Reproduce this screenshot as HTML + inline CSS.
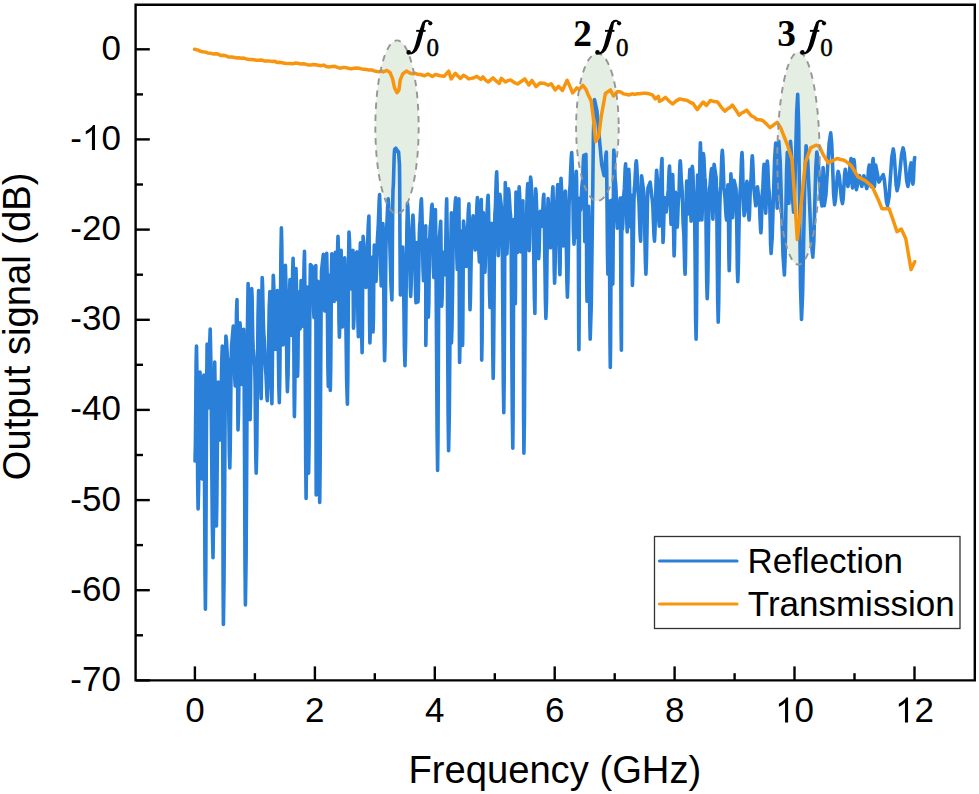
<!DOCTYPE html><html><head><meta charset="utf-8"><style>html,body{margin:0;padding:0;background:#fff;overflow:hidden}svg{display:block}</style></head><body>
<svg width="979" height="794" viewBox="0 0 979 794">
<rect width="979" height="794" fill="#fff"/>
<ellipse cx="397.0" cy="127.15" rx="21.65" ry="86.75" fill="#e4eee2"/>
<ellipse cx="597.4" cy="127.15" rx="21.3" ry="73.9" fill="#e4eee2"/>
<ellipse cx="798.5" cy="158.35" rx="21.2" ry="106.35" fill="#e4eee2"/>
<path d="M195.0,461.0 195.4,444.2 195.8,403.5 196.1,362.8 196.5,346.0 196.9,369.9 197.3,427.5 197.7,485.1 198.1,509.0 198.6,488.9 199.1,440.5 199.5,392.1 200.0,372.0 200.5,387.7 201.1,425.5 201.6,463.3 202.1,479.0 202.5,463.8 202.9,427.0 203.3,390.3 203.8,375.0 204.2,409.4 204.6,492.2 205.0,575.0 205.4,609.3 205.8,570.4 206.2,476.6 206.7,382.9 207.1,344.0 207.4,353.4 207.8,376.0 208.2,398.6 208.5,408.0 208.9,396.4 209.3,368.5 209.8,340.6 210.2,329.0 210.9,362.5 211.6,443.3 212.3,524.1 213.0,557.6 213.4,529.0 213.8,459.8 214.3,390.6 214.7,362.0 215.1,386.0 215.6,444.0 216.0,502.0 216.4,526.0 216.8,504.9 217.3,454.0 217.8,403.1 218.2,382.0 218.7,390.5 219.2,411.0 219.7,431.5 220.2,440.0 220.7,426.2 221.2,393.0 221.8,359.8 222.3,346.0 222.6,386.8 222.9,485.2 223.1,583.6 223.4,624.4 224.0,582.2 224.7,480.2 225.3,378.2 225.9,336.0 226.4,339.7 226.9,348.6 227.4,357.5 227.9,361.2 228.3,376.9 228.8,414.6 229.3,452.4 229.8,468.0 230.2,450.0 230.7,406.7 231.1,363.3 231.6,345.3 233.3,326.0 233.8,334.8 234.2,356.0 234.7,377.2 235.2,386.0 235.6,373.4 236.1,342.8 236.5,312.3 237.0,299.6 237.2,318.7 237.5,364.8 237.8,410.9 238.0,430.0 238.5,414.3 239.0,376.4 239.5,338.5 240.0,322.8 240.5,331.8 241.0,353.6 241.5,375.5 242.0,384.5 242.4,376.4 242.8,356.9 243.3,337.3 243.7,329.2 244.1,369.6 244.6,467.1 245.0,564.5 245.4,604.9 246.1,557.8 246.8,444.2 247.4,330.6 248.1,283.5 248.6,303.5 249.1,351.6 249.6,399.8 250.1,419.8 250.5,400.6 250.9,354.2 251.3,307.7 251.7,288.5 252.1,297.2 252.4,318.3 252.8,339.4 253.2,348.2 254.7,366.5 255.1,382.2 255.4,419.9 255.8,457.6 256.2,473.2 256.8,446.5 257.4,381.9 258.0,317.3 258.6,290.6 259.2,306.4 259.9,344.6 260.6,382.8 261.2,398.6 261.4,380.9 261.7,338.1 261.9,295.2 262.2,277.5 262.6,285.9 263.0,306.3 263.5,326.6 263.9,335.1 264.3,340.2 264.8,352.7 265.2,365.2 265.6,370.3 266.0,374.8 266.5,385.5 266.9,396.2 267.3,400.6 267.9,384.6 268.6,346.1 269.2,307.6 269.9,291.6 270.4,308.0 270.9,347.6 271.4,387.3 271.9,403.7 272.2,384.9 272.6,339.6 272.9,294.2 273.3,275.4 273.8,286.2 274.3,312.3 274.8,338.4 275.3,349.2 275.8,340.6 276.3,319.9 276.8,299.2 277.3,290.6 277.8,307.0 278.3,346.6 278.8,386.3 279.3,402.7 279.8,377.1 280.4,315.2 280.9,253.3 281.4,227.7 281.8,244.9 282.2,286.3 282.6,327.8 283.0,345.0 283.6,333.3 284.2,305.2 284.8,277.1 285.4,265.4 285.9,283.9 286.4,328.5 286.9,373.1 287.4,391.6 288.0,375.2 288.7,335.6 289.4,295.9 290.0,279.5 290.4,287.7 290.8,307.5 291.2,327.3 291.6,335.5 291.9,324.2 292.3,296.9 292.7,269.6 293.1,258.3 293.4,281.5 293.8,337.4 294.1,393.4 294.4,416.6 294.8,394.9 295.2,342.6 295.6,290.2 296.0,268.5 296.4,284.3 296.8,322.4 297.2,360.5 297.6,376.3 297.9,363.9 298.2,334.1 298.5,304.2 298.9,291.8 299.2,297.3 299.5,310.4 299.8,323.6 300.1,329.0 300.4,321.9 300.6,304.8 300.9,287.7 301.1,280.6 301.5,287.3 302.0,303.4 302.4,319.5 302.8,326.2 303.2,315.2 303.6,288.8 304.1,262.4 304.5,251.4 304.9,287.6 305.3,374.9 305.7,462.3 306.1,498.5 306.4,467.5 306.7,392.8 307.0,318.1 307.4,287.1 307.7,314.4 308.0,380.2 308.3,446.0 308.6,473.3 309.1,442.7 309.5,369.0 309.9,295.2 310.4,264.6 312.2,266.5 312.6,273.9 313.1,291.9 313.6,309.9 314.0,317.4 314.4,309.8 314.9,291.4 315.4,273.1 315.8,265.5 315.9,299.1 316.0,380.2 316.1,461.4 316.2,495.0 316.6,463.7 317.1,388.2 317.5,312.7 317.9,281.4 318.4,313.8 318.8,392.0 319.3,470.1 319.7,502.5 320.1,468.6 320.6,386.8 321.1,305.0 321.5,271.2 323.3,254.4 323.6,262.7 324.0,282.6 324.4,302.6 324.7,310.9 325.2,302.5 325.7,282.1 326.2,261.8 326.7,253.4 327.1,272.9 327.5,319.9 327.9,366.9 328.3,386.4 328.6,370.1 328.8,330.9 329.1,291.6 329.3,275.3 329.6,292.2 329.8,332.9 330.1,373.6 330.3,390.4 330.7,370.4 331.1,322.1 331.4,273.9 331.8,253.9 333.3,258.5 333.6,264.8 333.8,279.9 334.1,295.1 334.3,301.4 334.6,294.2 334.8,276.9 335.1,259.6 335.3,252.4 335.6,259.3 336.0,276.0 336.3,292.6 336.6,299.5 337.0,290.3 337.3,267.9 337.7,245.6 338.0,236.3 338.4,251.1 338.7,286.7 339.0,322.3 339.4,337.1 339.8,324.4 340.2,293.7 340.7,263.0 341.1,250.3 341.4,261.5 341.8,288.6 342.1,315.8 342.4,327.0 343.0,316.9 343.5,292.4 344.1,267.9 344.7,257.8 345.4,279.2 346.0,331.0 346.7,382.8 347.4,404.2 347.8,379.0 348.2,318.1 348.6,257.3 349.0,232.1 349.5,240.4 350.0,260.5 350.5,280.6 350.9,288.9 351.4,283.3 351.9,269.6 352.4,256.0 352.9,250.3 353.0,261.7 353.2,289.2 353.4,316.8 353.5,328.2 354.0,317.3 354.4,290.9 354.9,264.5 355.4,253.6 356.9,251.9 357.3,264.4 357.6,294.4 358.0,324.4 358.4,336.8 358.9,323.0 359.4,289.9 359.9,256.7 360.4,242.9 360.8,259.0 361.2,297.8 361.7,336.6 362.1,352.7 362.4,335.7 362.6,294.6 362.9,253.4 363.1,236.4 363.8,243.9 364.6,261.9 365.3,279.9 366.0,287.4 366.7,277.0 367.4,251.8 368.2,226.5 368.9,216.1 369.1,234.7 369.4,279.5 369.6,324.3 369.9,342.9 370.3,330.4 370.7,300.1 371.1,269.8 371.5,257.3 371.9,268.2 372.3,294.6 372.7,321.0 373.1,331.9 373.4,319.2 373.7,288.4 374.0,257.7 374.3,245.0 374.7,250.3 375.1,263.2 375.6,276.1 376.0,281.4 376.4,274.3 376.9,257.1 377.4,239.9 377.8,232.8 378.2,227.2 378.7,213.7 379.2,200.2 379.6,194.6 380.0,208.0 380.4,240.2 380.8,272.5 381.2,285.9 381.7,276.8 382.1,254.7 382.5,232.7 382.9,223.6 383.3,243.7 383.8,292.2 384.2,340.7 384.6,360.8 385.1,341.7 385.5,295.4 385.9,249.2 386.4,230.1 386.8,225.5 387.3,214.5 387.8,203.5 388.2,198.9 389.1,213.7 390.0,249.4 391.0,285.2 391.9,300.0 392.2,283.9 392.4,245.0 392.7,206.1 393.0,190.0 393.4,184.1 393.8,169.8 394.2,155.4 394.6,149.5 395.8,148.2 397.2,150.5 398.6,152.0 399.5,165.0 399.7,184.0 399.9,230.0 400.2,276.0 400.4,295.0 401.0,288.0 401.5,271.1 402.1,254.1 402.7,247.1 403.3,264.5 403.9,306.4 404.4,348.3 405.0,365.7 405.6,341.9 406.2,284.4 406.9,227.0 407.5,203.2 407.9,207.9 408.3,219.3 408.7,230.7 409.1,235.5 409.5,244.4 409.9,265.9 410.3,287.5 410.7,296.4 411.2,284.5 411.8,255.7 412.3,226.9 412.9,215.0 413.3,219.9 413.7,231.9 414.1,243.8 414.4,248.8 414.8,256.7 415.2,275.8 415.6,294.9 416.0,302.8 416.2,294.0 416.5,272.6 416.8,251.3 417.0,242.5 417.2,251.2 417.5,272.2 417.8,293.3 418.0,302.0 418.4,290.6 418.9,263.2 419.3,235.8 419.7,224.5 420.1,220.7 420.5,211.7 421.0,202.6 421.4,198.9 421.9,210.9 422.5,239.9 423.0,268.8 423.5,280.8 424.1,272.7 424.6,253.3 425.2,233.8 425.7,225.7 425.7,243.2 425.8,285.5 425.8,327.9 425.8,345.4 426.1,329.9 426.4,292.6 426.7,255.2 427.1,239.7 427.4,251.1 427.7,278.5 428.0,305.9 428.3,317.2 428.8,304.0 429.2,272.2 429.7,240.3 430.2,227.1 430.7,223.8 431.2,215.7 431.6,207.6 432.1,204.3 432.5,215.0 432.9,240.8 433.3,266.7 433.8,277.4 434.2,267.4 434.6,243.5 435.0,219.5 435.4,209.6 435.9,247.8 436.5,340.0 437.1,432.2 437.6,470.4 438.0,436.8 438.4,355.6 438.8,274.5 439.1,240.9 440.7,221.4 440.9,233.8 441.2,263.8 441.4,293.7 441.7,306.1 442.1,298.2 442.5,279.1 442.9,260.1 443.4,252.2 443.8,255.5 444.2,263.5 444.6,271.5 445.0,274.8 445.4,263.7 445.9,236.8 446.3,210.0 446.7,198.9 447.2,235.8 447.6,324.9 448.1,413.9 448.6,450.8 449.3,416.0 450.0,331.9 450.7,247.7 451.4,212.9 451.4,231.9 451.4,277.9 451.5,323.9 451.5,342.9 452.0,326.4 452.6,286.7 453.1,246.9 453.6,230.5 454.1,225.7 454.6,214.2 455.2,202.7 455.7,197.9 456.1,208.4 456.5,233.7 456.9,258.9 457.3,269.4 457.7,259.1 458.1,234.2 458.5,209.2 458.9,198.9 459.1,222.9 459.2,280.7 459.4,338.5 459.6,362.5 460.0,343.3 460.4,296.8 460.7,250.3 461.1,231.1 461.5,247.8 461.9,288.2 462.2,328.7 462.6,345.4 462.8,327.2 463.1,283.2 463.3,239.3 463.5,221.1 464.2,227.7 464.9,243.8 465.5,259.8 466.2,266.4 466.9,257.3 467.5,235.2 468.2,213.1 468.9,203.9 469.2,219.4 469.4,256.9 469.7,294.3 470.0,309.8 470.4,300.5 470.8,278.1 471.2,255.7 471.6,246.4 471.9,241.9 472.3,231.1 472.7,220.2 473.1,215.7 473.7,220.7 474.2,232.8 474.8,245.0 475.3,250.0 475.8,242.3 476.4,223.8 476.9,205.2 477.4,197.5 477.9,206.9 478.4,229.7 478.9,252.5 479.4,262.0 479.8,252.8 480.3,230.8 480.8,208.7 481.3,199.6 481.4,223.1 481.5,279.9 481.6,336.6 481.7,360.1 482.1,338.5 482.5,286.3 482.9,234.2 483.3,212.6 483.7,221.3 484.1,242.4 484.5,263.5 484.9,272.3 485.3,264.6 485.7,246.1 486.1,227.7 486.5,220.0 486.9,216.4 487.3,207.7 487.7,199.0 488.1,195.4 488.6,211.8 489.1,251.4 489.5,291.0 490.0,307.4 490.4,295.1 490.8,265.4 491.2,235.7 491.6,223.4 492.0,246.1 492.4,300.9 492.8,355.8 493.2,378.5 493.6,354.3 494.1,296.0 494.5,237.7 494.9,213.6 495.4,207.5 495.8,192.7 496.3,177.9 496.7,171.8 497.1,184.1 497.5,213.7 497.9,243.3 498.3,255.6 498.7,246.6 499.1,224.9 499.5,203.3 499.9,194.3 501.9,211.3 502.3,240.8 502.8,312.1 503.3,383.3 503.8,412.8 504.2,379.1 504.6,297.7 504.9,216.2 505.3,182.5 505.7,193.0 506.1,218.3 506.5,243.5 506.9,254.0 507.3,244.5 507.7,221.5 508.1,198.4 508.5,188.9 509.0,192.8 509.6,202.2 510.1,211.6 510.6,215.5 511.2,249.6 511.7,331.9 512.3,414.2 512.8,448.3 513.1,414.8 513.4,333.8 513.7,252.8 514.0,219.2 514.4,231.6 514.7,261.5 515.0,291.3 515.3,303.7 515.5,287.4 515.6,247.9 515.8,208.4 516.0,192.1 516.4,200.9 516.8,222.3 517.2,243.6 517.6,252.5 518.0,242.9 518.4,219.6 518.8,196.4 519.2,186.8 519.7,196.3 520.1,219.4 520.6,242.4 521.0,252.0 521.5,244.5 522.0,226.3 522.4,208.2 522.9,200.7 523.1,237.7 523.4,326.9 523.6,416.2 523.9,453.2 524.4,420.5 524.9,341.6 525.4,262.8 525.8,230.1 526.3,223.3 526.8,206.8 527.3,190.4 527.8,183.6 528.1,193.4 528.5,217.2 528.9,241.0 529.2,250.8 529.6,240.0 529.9,214.0 530.2,187.9 530.6,177.1 531.1,181.3 531.7,191.5 532.2,201.7 532.8,206.0 533.3,221.7 533.8,259.7 534.4,297.8 534.9,313.5 535.1,295.3 535.3,251.2 535.5,207.1 535.7,188.9 536.1,193.4 536.5,204.3 536.8,215.2 537.2,219.7 537.6,225.4 538.0,239.1 538.3,252.9 538.7,258.6 539.1,251.7 539.5,235.0 539.8,218.3 540.2,211.3 541.7,226.4 542.2,221.7 542.8,210.4 543.3,199.0 543.8,194.3 544.3,212.5 544.8,256.3 545.4,300.2 545.9,318.4 546.5,300.9 547.0,258.5 547.5,216.1 548.1,198.6 548.7,205.8 549.3,223.2 549.9,240.6 550.5,247.8 551.1,238.9 551.7,217.3 552.3,195.7 552.9,186.8 553.3,200.9 553.8,235.0 554.2,269.1 554.6,283.2 555.0,273.0 555.4,248.3 555.8,223.6 556.2,213.3 556.6,209.1 557.0,199.0 557.4,188.8 557.8,184.6 558.3,197.8 558.8,229.6 559.4,261.4 559.9,274.6 560.2,260.5 560.5,226.4 560.7,192.3 561.0,178.2 561.5,188.1 562.1,212.1 562.6,236.1 563.1,246.0 563.7,237.9 564.2,218.5 564.8,199.1 565.3,191.1 565.8,206.6 566.3,244.1 566.9,281.6 567.4,297.1 567.9,281.7 568.5,244.5 569.0,207.3 569.5,192.0 570.1,186.2 570.6,172.2 571.2,158.3 571.7,152.5 572.3,165.9 572.9,198.3 573.4,230.7 574.0,244.1 574.6,233.4 575.1,207.7 575.7,182.0 576.3,171.4 576.6,181.1 576.8,204.6 577.1,228.1 577.4,237.8 577.6,233.6 577.8,223.5 578.0,213.3 578.1,209.1 578.3,229.7 578.5,279.5 578.7,329.2 578.9,349.8 579.1,327.6 579.3,273.9 579.5,220.2 579.8,198.0 580.6,210.0 581.0,206.1 581.4,196.8 581.8,187.5 582.2,183.6 582.6,179.5 583.0,169.5 583.4,159.5 583.8,155.4 584.1,168.0 584.3,198.5 584.6,229.0 584.8,241.6 585.1,228.8 585.4,198.0 585.6,167.1 585.9,154.3 586.2,175.8 586.5,227.8 586.7,279.8 587.0,301.3 587.4,287.4 587.8,253.9 588.2,220.3 588.6,206.4 589.0,225.9 589.4,272.9 589.8,319.8 590.2,339.3 591.3,304.2 592.4,219.5 593.4,134.7 594.5,99.6 596.9,110.7 599.3,137.6 601.7,164.6 604.1,175.7 604.6,172.2 605.2,163.9 605.8,155.6 606.3,152.1 606.7,170.0 607.1,213.2 607.5,256.4 607.9,274.3 608.2,263.6 608.5,237.7 608.8,211.8 609.1,201.1 609.4,225.4 609.7,284.3 610.0,343.1 610.3,367.5 610.6,343.0 610.9,284.0 611.2,224.9 611.5,200.4 611.9,212.7 612.2,242.3 612.5,271.8 612.8,284.1 613.0,264.5 613.3,217.1 613.5,169.6 613.8,150.0 614.2,154.9 614.7,166.7 615.1,178.6 615.6,183.5 616.0,190.0 616.5,205.8 616.9,221.6 617.3,228.1 619.1,218.6 619.4,215.6 619.7,208.4 620.0,201.1 620.2,198.1 620.5,220.4 620.8,274.2 621.1,328.0 621.4,350.3 621.5,328.0 621.6,274.0 621.8,220.1 621.9,197.7 622.0,202.3 622.1,213.5 622.3,224.7 622.4,229.3 622.8,223.9 623.2,210.9 623.6,198.0 624.0,192.6 624.4,188.4 624.8,178.2 625.2,168.1 625.6,163.9 626.0,173.9 626.4,197.9 626.8,222.0 627.2,231.9 627.6,222.8 628.0,200.6 628.4,178.5 628.8,169.3 629.3,177.8 629.8,198.2 630.4,218.6 630.9,227.1 631.1,222.4 631.3,211.1 631.5,199.9 631.6,195.2 631.8,208.4 632.0,240.3 632.2,272.2 632.4,285.4 632.9,271.2 633.4,237.1 633.9,202.9 634.3,188.7 634.8,184.6 635.3,174.7 635.8,164.8 636.3,160.7 636.8,165.9 637.4,178.5 637.9,191.1 638.5,196.3 639.0,202.9 639.5,218.7 640.1,234.5 640.6,241.1 640.9,231.5 641.1,208.4 641.4,185.3 641.6,175.7 643.8,192.2 644.3,204.2 644.8,233.2 645.4,262.3 645.9,274.3 646.4,261.6 647.0,231.0 647.5,200.3 648.0,187.6 650.2,182.1 652.4,201.1 652.9,207.0 653.4,221.2 654.0,235.3 654.5,241.2 655.0,230.8 655.5,205.8 656.1,180.8 656.6,170.4 657.3,178.6 658.0,198.3 658.6,217.9 659.3,226.1 660.0,216.2 660.6,192.4 661.3,168.5 662.0,158.6 662.2,170.9 662.5,200.5 662.8,230.2 663.0,242.5 663.4,235.9 663.8,220.0 664.2,204.1 664.6,197.6 666.2,212.0 667.9,194.0 668.3,189.9 668.7,180.0 669.1,170.2 669.5,166.1 669.9,174.6 670.3,195.2 670.7,215.8 671.1,224.3 671.5,217.1 671.9,199.5 672.3,181.9 672.7,174.6 673.1,186.5 673.4,215.2 673.8,244.0 674.1,255.9 674.5,246.6 674.9,224.0 675.2,201.5 675.6,192.2 676.0,197.3 676.4,209.7 676.8,222.1 677.2,227.2 677.5,222.8 677.9,212.3 678.3,201.7 678.7,197.3 679.1,191.9 679.4,179.0 679.8,166.1 680.2,160.7 680.6,164.4 681.0,173.2 681.4,182.0 681.8,185.7 682.2,192.0 682.7,207.3 683.1,222.6 683.5,228.9 683.9,235.6 684.3,251.6 684.7,267.7 685.1,274.3 685.5,260.7 685.9,227.7 686.3,194.8 686.7,181.1 687.1,185.9 687.5,197.5 687.9,209.1 688.3,213.9 688.7,207.4 689.1,191.6 689.5,175.8 689.9,169.3 690.2,176.9 690.5,195.3 690.8,213.7 691.1,221.3 691.4,213.3 691.7,193.9 692.0,174.4 692.3,166.4 692.8,170.8 693.2,181.6 693.7,192.3 694.2,196.7 694.7,217.6 695.2,268.0 695.6,318.4 696.1,339.3 696.5,315.2 696.9,257.2 697.2,199.1 697.6,175.0 698.0,181.6 698.3,197.6 698.6,213.5 699.0,220.2 699.4,208.8 699.7,181.5 700.0,154.2 700.4,142.9 700.8,154.2 701.1,181.4 701.5,208.6 701.9,219.9 702.3,210.2 702.6,186.7 703.0,163.3 703.4,153.6 703.9,157.6 704.3,167.4 704.8,177.2 705.3,181.3 705.8,198.5 706.2,240.0 706.7,281.6 707.2,298.8 707.8,282.7 708.3,243.9 708.9,205.0 709.4,188.9 710.0,185.9 710.5,178.8 711.1,171.6 711.6,168.6 711.9,176.0 712.2,193.8 712.5,211.7 712.9,219.1 713.2,211.0 713.5,191.7 713.8,172.3 714.1,164.3 716.2,178.3 716.7,199.3 717.2,250.2 717.7,301.0 718.2,322.1 718.7,303.1 719.2,257.1 719.7,211.1 720.2,192.0 720.8,185.9 721.3,171.2 721.8,156.5 722.3,150.4 722.8,156.7 723.4,172.1 723.9,187.4 724.5,193.7 725.0,197.6 725.5,206.9 726.1,216.2 726.6,220.0 726.9,214.8 727.2,202.4 727.6,190.0 727.9,184.8 728.2,197.4 728.6,227.7 728.9,258.0 729.2,270.6 729.6,256.4 730.0,222.3 730.5,188.1 730.9,173.9 731.3,180.3 731.7,195.8 732.1,211.2 732.5,217.6 732.9,212.2 733.3,199.0 733.7,185.9 734.1,180.4 736.0,188.6 736.4,202.2 736.9,235.2 737.3,268.1 737.8,281.7 738.3,268.9 738.8,238.0 739.4,207.1 739.9,194.4 740.4,188.2 741.0,173.4 741.5,158.6 742.0,152.5 742.5,161.8 743.0,184.1 743.6,206.4 744.1,215.7 744.8,210.7 745.5,198.6 746.2,186.4 746.9,181.4 747.5,187.1 748.0,200.7 748.5,214.3 749.1,220.0 749.5,214.5 749.9,201.2 750.3,187.9 750.7,182.4 751.1,178.5 751.5,169.1 751.9,159.6 752.3,155.7 752.7,160.6 753.2,172.5 753.6,184.4 754.0,189.4 755.7,205.8 757.5,186.9 759.2,202.6 759.6,207.1 760.0,217.7 760.5,228.4 760.9,232.8 761.3,226.7 761.7,212.0 762.1,197.2 762.5,191.1 762.9,187.2 763.3,177.7 763.7,168.2 764.1,164.3 764.5,171.5 764.9,188.7 765.3,206.0 765.7,213.2 766.1,205.5 766.5,187.1 766.9,168.7 767.3,161.1 767.8,165.6 768.2,176.6 768.7,187.6 769.2,192.2 769.7,201.1 770.2,222.8 770.6,244.5 771.1,253.5 772.2,237.3 773.4,198.2 774.6,159.2 775.7,143.0 776.1,152.6 776.5,175.6 776.9,198.7 777.2,208.2 777.6,198.5 778.0,174.8 778.4,151.2 778.8,141.4 780.2,161.0 781.6,208.2 783.0,255.4 784.4,275.0 785.1,257.0 785.8,213.7 786.6,170.4 787.3,152.4 787.7,159.8 788.1,177.8 788.5,195.8 788.9,203.3 789.3,194.2 789.7,172.3 790.1,150.5 790.5,141.4 791.3,151.8 792.0,176.8 792.8,201.8 793.6,212.2 794.6,194.9 795.7,153.2 796.7,111.5 797.7,94.2 798.7,127.2 799.6,206.8 800.5,286.5 801.5,319.5 802.6,294.0 803.8,232.6 805.0,171.2 806.1,145.7 807.8,162.0 809.5,201.4 811.1,240.8 812.8,257.1 813.8,241.7 814.8,204.6 815.8,167.5 816.8,152.1 818.1,160.0 819.4,179.0 820.7,198.0 822.0,205.9 822.3,200.3 822.6,186.7 822.9,173.2 823.1,167.6 823.4,173.2 823.7,186.6 824.0,200.1 824.3,205.7 825.9,195.0 827.5,169.3 829.1,143.6 830.7,132.9 831.7,143.4 832.7,168.8 833.6,194.1 834.6,204.6 835.5,199.7 836.4,188.0 837.3,176.3 838.2,171.4 839.3,176.1 840.4,187.5 841.4,198.9 842.5,203.6 843.2,198.6 843.9,186.5 844.6,174.3 845.3,169.3 847.9,186.4 848.7,182.3 849.5,172.5 850.3,162.7 851.1,158.6 851.5,162.9 851.8,173.3 852.1,183.6 852.5,187.9 852.9,183.8 853.2,173.8 853.5,163.8 853.9,159.6 854.5,164.0 855.1,174.6 855.8,185.2 856.4,189.6 859.6,175.7 861.8,186.4 863.9,175.7 866.7,188.6 867.4,185.1 868.0,176.8 868.6,168.5 869.3,165.0 869.8,168.2 870.2,175.9 870.7,183.6 871.2,186.8 871.7,182.6 872.2,172.7 872.6,162.7 873.1,158.6 873.4,162.7 873.8,172.6 874.1,182.5 874.4,186.6 874.7,183.4 875.1,175.8 875.4,168.2 875.7,165.0 878.9,182.1 883.2,174.6 884.3,179.2 885.4,190.1 886.4,201.1 887.5,205.7 889.0,197.4 890.4,177.3 891.8,157.2 893.3,148.9 894.2,155.0 895.2,169.8 896.1,184.6 897.1,190.7 898.6,184.4 900.1,169.3 901.6,154.2 903.1,147.9 904.3,153.5 905.5,167.2 906.7,180.8 907.9,186.4 908.7,183.0 909.5,174.7 910.3,166.3 911.1,162.9 911.6,166.0 912.0,173.5 912.5,181.0 912.9,184.1 913.4,180.2 913.8,170.8 914.2,161.4 914.7,157.5" fill="none" stroke="#2a80d8" stroke-width="3.6" stroke-linejoin="round" stroke-linecap="round"/>
<path d="M194.6,49.2 197.4,49.9 200.2,51.2 202.8,51.8 205.3,52.1 207.8,52.9 210.4,53.3 213.0,53.9 215.5,53.7 218.1,54.1 220.7,55.5 223.2,55.3 225.8,55.7 228.3,57.0 230.9,56.9 233.5,57.2 236.0,57.9 238.6,57.8 241.1,58.3 243.7,58.1 246.2,58.9 248.8,59.5 251.3,59.4 253.9,59.7 256.4,60.2 258.9,60.3 261.5,59.9 264.1,60.9 266.6,61.0 269.1,60.9 271.7,61.4 274.3,61.2 276.9,62.4 279.5,62.3 282.2,62.8 284.8,63.3 287.4,63.4 290.0,63.5 292.6,63.8 295.1,63.1 297.7,63.2 300.2,63.9 302.8,63.8 305.3,64.1 307.9,64.9 310.4,65.1 313.0,64.5 315.5,64.8 318.1,65.2 320.6,65.8 323.7,65.1 326.2,66.5 328.8,66.9 331.9,66.5 334.9,66.3 337.4,67.4 340.0,68.2 342.6,67.6 345.2,67.4 348.2,68.2 351.3,68.9 353.9,68.3 356.4,67.9 358.9,68.2 361.5,68.9 364.1,69.2 366.6,69.5 369.1,70.1 371.7,69.9 374.2,70.9 376.8,71.5 379.4,71.7 381.9,70.9 383.1,72.0 386.9,70.4 390.1,72.6 392.6,78.9 394.5,87.7 397.0,92.8 398.9,90.3 400.2,80.2 402.7,73.9 406.4,71.1 410.2,73.3 412.8,73.7 415.3,73.3 417.8,74.4 420.3,74.5 424.7,75.8 427.9,73.9 432.3,76.4 435.4,74.5 440.0,75.8 444.1,76.3 448.7,71.2 451.2,78.9 455.3,73.3 457.9,76.0 460.4,78.4 463.5,75.3 466.1,76.7 468.6,78.9 471.3,78.4 474.1,77.7 476.8,76.3 480.9,79.4 482.9,76.9 485.4,79.9 488.0,82.0 490.6,80.0 493.1,77.9 496.1,80.9 499.2,83.5 501.3,78.4 505.4,82.0 507.9,80.6 510.5,79.9 514.0,82.3 517.6,84.0 521.2,81.5 524.8,78.9 528.9,85.0 531.9,80.4 536.0,86.6 540.0,83.0 544.1,83.3 548.2,85.3 551.2,83.8 555.3,89.9 558.4,86.3 562.5,90.4 567.1,80.2 569.9,86.4 572.7,93.0 576.8,87.9 579.3,89.4 582.9,85.3 586.0,89.4 588.0,94.5 591.1,100.6 593.1,116.0 595.7,141.5 598.7,136.4 601.3,116.0 605.4,93.5 610.5,89.9 613.5,96.0 617.6,91.5 620.7,92.0 623.7,93.9 626.8,94.5 629.4,94.9 632.1,93.8 634.7,94.4 637.4,93.8 640.0,93.8 643.0,93.2 646.1,93.3 649.2,93.8 652.3,94.8 655.3,98.9 658.4,96.3 659.4,101.4 662.5,99.7 665.5,97.4 669.1,101.1 672.7,104.0 676.2,100.9 679.8,98.9 682.3,99.5 684.9,99.9 687.6,100.6 690.4,102.5 693.1,103.5 697.2,109.6 700.2,105.6 703.3,102.0 706.4,105.5 710.5,100.4 714.0,101.6 717.6,102.0 721.2,107.1 724.8,111.2 727.3,109.1 729.9,107.6 732.4,105.0 735.8,109.9 739.1,115.2 741.6,113.0 744.1,111.9 746.6,110.1 751.3,115.8 754.1,117.2 757.0,119.6 759.9,119.7 762.7,120.5 766.4,123.9 770.0,127.6 777.1,122.3 780.6,127.6 787.6,145.3 792.0,159.4 794.7,198.2 797.3,239.6 800.0,215.8 805.3,162.9 810.6,147.9 815.9,145.3 819.4,146.2 822.9,154.1 828.2,162.9 837.1,158.5 840.6,159.5 844.1,160.3 847.7,162.6 851.2,165.6 858.2,177.0 865.3,180.6 872.3,186.7 877.6,198.2 882.0,208.8 889.1,208.8 892.6,218.5 897.0,231.7 901.4,229.1 905.8,238.8 911.1,269.6 914.7,261.7" fill="none" stroke="#f8950f" stroke-width="3.5" stroke-linejoin="round" stroke-linecap="round"/>
<ellipse cx="397.0" cy="127.15" rx="21.65" ry="86.75" fill="none" stroke="#969696" stroke-width="1.9" stroke-dasharray="6.5 5.5"/>
<ellipse cx="597.4" cy="127.15" rx="21.3" ry="73.9" fill="none" stroke="#969696" stroke-width="1.9" stroke-dasharray="6.5 5.5"/>
<ellipse cx="798.5" cy="158.35" rx="21.2" ry="106.35" fill="none" stroke="#969696" stroke-width="1.9" stroke-dasharray="6.5 5.5"/>
<g stroke="#000" stroke-width="2.4" fill="none">
<path d="M135.6,4.8 H974.8 V680.4 H135.6 Z"/>
<path d="M194.9,680.4 V666.4"/>
<path d="M254.9,680.4 V673.1999999999999"/>
<path d="M314.9,680.4 V666.4"/>
<path d="M374.8,680.4 V673.1999999999999"/>
<path d="M434.8,680.4 V666.4"/>
<path d="M494.8,680.4 V673.1999999999999"/>
<path d="M554.7,680.4 V666.4"/>
<path d="M614.7,680.4 V673.1999999999999"/>
<path d="M674.6,680.4 V666.4"/>
<path d="M734.6,680.4 V673.1999999999999"/>
<path d="M794.5,680.4 V666.4"/>
<path d="M854.5,680.4 V673.1999999999999"/>
<path d="M914.5,680.4 V666.4"/>
<path d="M135.8,49.3 H149.8"/>
<path d="M135.8,94.4 H143.0"/>
<path d="M135.8,139.4 H149.8"/>
<path d="M135.8,184.5 H143.0"/>
<path d="M135.8,229.6 H149.8"/>
<path d="M135.8,274.7 H143.0"/>
<path d="M135.8,319.8 H149.8"/>
<path d="M135.8,364.8 H143.0"/>
<path d="M135.8,409.9 H149.8"/>
<path d="M135.8,455.0 H143.0"/>
<path d="M135.8,500.1 H149.8"/>
<path d="M135.8,545.1 H143.0"/>
<path d="M135.8,590.2 H149.8"/>
<path d="M135.8,635.3 H143.0"/>
<path d="M135.8,680.4 H149.8"/>
</g>
<g font-family="Liberation Sans, sans-serif" font-size="35" fill="#000">
<g transform="matrix(1,0,0,1.015,0,-0.897)"><text x="101.43" y="59.80">0</text></g>
<g transform="matrix(1,0,0,1.015,0,-2.249)"><text x="70.31" y="149.95">-</text><path transform="translate(81.97,149.95) scale(0.017090,-0.017090)" d="M763,0 L763,1440 L650,1440 C612,1360 560,1320 480,1250 C400,1185 320,1130 223,1082 L223,905 C300,940 400,990 480,1050 C530,1085 560,1110 583,1147 L583,0 Z"/><text x="101.43" y="149.95">0</text></g>
<g transform="matrix(1,0,0,1.015,0,-3.602)"><text x="70.31" y="240.10">-</text><text x="81.97" y="240.10">2</text><text x="101.43" y="240.10">0</text></g>
<g transform="matrix(1,0,0,1.015,0,-4.954)"><text x="70.31" y="330.25">-</text><text x="81.97" y="330.25">3</text><text x="101.43" y="330.25">0</text></g>
<g transform="matrix(1,0,0,1.015,0,-6.306)"><text x="70.31" y="420.40">-</text><text x="81.97" y="420.40">4</text><text x="101.43" y="420.40">0</text></g>
<g transform="matrix(1,0,0,1.015,0,-7.658)"><text x="70.31" y="510.55">-</text><text x="81.97" y="510.55">5</text><text x="101.43" y="510.55">0</text></g>
<g transform="matrix(1,0,0,1.015,0,-9.011)"><text x="70.31" y="600.70">-</text><text x="81.97" y="600.70">6</text><text x="101.43" y="600.70">0</text></g>
<g transform="matrix(1,0,0,1.015,0,-10.363)"><text x="70.31" y="690.85">-</text><text x="81.97" y="690.85">7</text><text x="101.43" y="690.85">0</text></g>
<g transform="matrix(1,0,0,1.015,0,-10.838)"><text x="185.22" y="722.50">0</text></g>
<g transform="matrix(1,0,0,1.015,0,-10.838)"><text x="305.14" y="722.50">2</text></g>
<g transform="matrix(1,0,0,1.015,0,-10.838)"><text x="425.06" y="722.50">4</text></g>
<g transform="matrix(1,0,0,1.015,0,-10.838)"><text x="544.98" y="722.50">6</text></g>
<g transform="matrix(1,0,0,1.015,0,-10.838)"><text x="664.90" y="722.50">8</text></g>
<g transform="matrix(1,0,0,1.015,0,-10.838)"><path transform="translate(775.08,722.50) scale(0.017090,-0.017090)" d="M763,0 L763,1440 L650,1440 C612,1360 560,1320 480,1250 C400,1185 320,1130 223,1082 L223,905 C300,940 400,990 480,1050 C530,1085 560,1110 583,1147 L583,0 Z"/><text x="794.55" y="722.50">0</text></g>
<g transform="matrix(1,0,0,1.015,0,-10.838)"><path transform="translate(895.00,722.50) scale(0.017090,-0.017090)" d="M763,0 L763,1440 L650,1440 C612,1360 560,1320 480,1250 C400,1185 320,1130 223,1082 L223,905 C300,940 400,990 480,1050 C530,1085 560,1110 583,1147 L583,0 Z"/><text x="914.47" y="722.50">2</text></g>
</g>
<text x="408.4" y="782.6" font-family="Liberation Sans, sans-serif" font-size="38.2" fill="#000">Frequency (GHz)</text>
<text transform="translate(30,480.3) rotate(-90)" x="0" y="0" font-family="Liberation Sans, sans-serif" font-size="38.2" fill="#000">Output signal (dB)</text>
<rect x="654.5" y="536.5" width="305.5" height="92" fill="#fff" stroke="#333" stroke-width="1.3"/>
<path d="M659.5,561 H737" stroke="#2a80d8" stroke-width="3.2" stroke-linecap="round"/>
<path d="M659.5,604 H737" stroke="#f8950f" stroke-width="3.2" stroke-linecap="round"/>
<g font-family="Liberation Sans, sans-serif" font-size="35" fill="#000">
<text x="747.4" y="572.5">Reflection</text>
<text x="747.8" y="615.6">Transmission</text>
</g>
<g transform="translate(0,0)" fill="#000"><path d="M430.89,22.59 L429.75,20.65 L427.58,19.75 L424.97,19.98 L422.49,21.97 L420.82,26.50 L418.93,31.92 L417.24,37.57 L415.32,44.69 L413.95,48.59 L412.62,50.98 L410.94,52.40 L409.16,51.58 L408.44,53.02 L411.06,54.40 L414.38,53.02 L417.05,50.41 L419.38,46.11 L421.66,38.83 L423.07,33.08 L424.38,27.50 L425.11,23.23 L426.03,22.02 L427.42,21.65 L428.65,21.95 L429.51,23.41 Z"/><circle cx="430.3" cy="23.3" r="2.1"/><circle cx="408.7" cy="52.4" r="2.3"/><rect x="416.2" y="29.9" width="9.4" height="1.9"/></g>
<g transform="translate(188.8,0)" fill="#000"><path d="M430.89,22.59 L429.75,20.65 L427.58,19.75 L424.97,19.98 L422.49,21.97 L420.82,26.50 L418.93,31.92 L417.24,37.57 L415.32,44.69 L413.95,48.59 L412.62,50.98 L410.94,52.40 L409.16,51.58 L408.44,53.02 L411.06,54.40 L414.38,53.02 L417.05,50.41 L419.38,46.11 L421.66,38.83 L423.07,33.08 L424.38,27.50 L425.11,23.23 L426.03,22.02 L427.42,21.65 L428.65,21.95 L429.51,23.41 Z"/><circle cx="430.3" cy="23.3" r="2.1"/><circle cx="408.7" cy="52.4" r="2.3"/><rect x="416.2" y="29.9" width="9.4" height="1.9"/></g>
<g transform="translate(393.7,0)" fill="#000"><path d="M430.89,22.59 L429.75,20.65 L427.58,19.75 L424.97,19.98 L422.49,21.97 L420.82,26.50 L418.93,31.92 L417.24,37.57 L415.32,44.69 L413.95,48.59 L412.62,50.98 L410.94,52.40 L409.16,51.58 L408.44,53.02 L411.06,54.40 L414.38,53.02 L417.05,50.41 L419.38,46.11 L421.66,38.83 L423.07,33.08 L424.38,27.50 L425.11,23.23 L426.03,22.02 L427.42,21.65 L428.65,21.95 L429.51,23.41 Z"/><circle cx="430.3" cy="23.3" r="2.1"/><circle cx="408.7" cy="52.4" r="2.3"/><rect x="416.2" y="29.9" width="9.4" height="1.9"/></g>
<g font-family="Liberation Serif, serif" fill="#000">
<text x="426.5" y="56" font-size="25" stroke="#000" stroke-width="0.5">0</text>
<text x="616.1" y="56" font-size="25" stroke="#000" stroke-width="0.5">0</text>
<text x="820.2" y="56" font-size="25" stroke="#000" stroke-width="0.5">0</text>
<text x="573.2" y="46.1" font-size="37.3" font-weight="bold">2</text>
<text x="777.3" y="46.1" font-size="37.3" font-weight="bold">3</text>
</g>
</svg></body></html>
